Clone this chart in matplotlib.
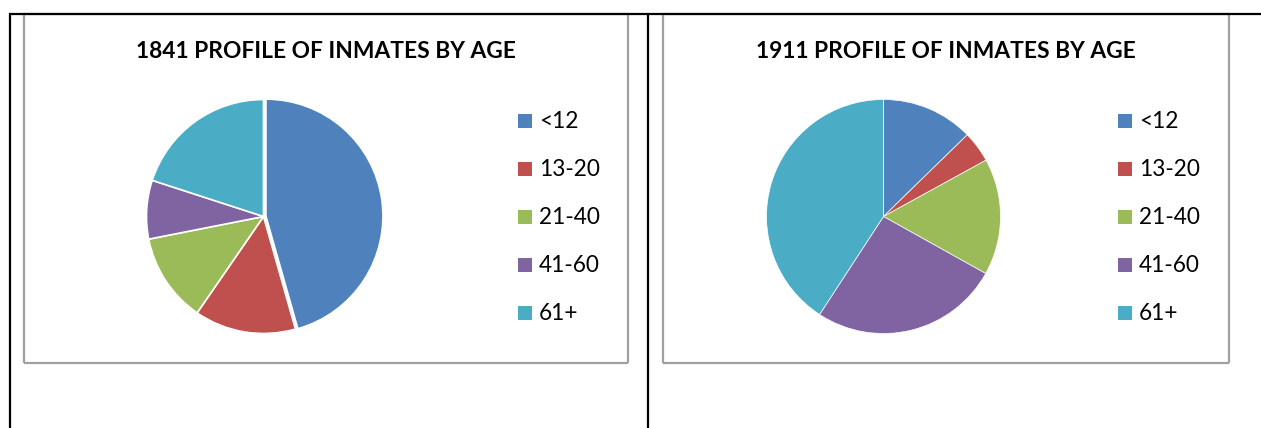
import matplotlib
matplotlib.use("Agg")
import matplotlib.pyplot as plt
from matplotlib.lines import Line2D

categories = ["<12", "13-20", "21-40", "41-60", "61+"]
values_1841 = [45.6, 14.0, 12.3, 8.1, 20.0]
values_1911 = [12.7, 4.3, 16.1, 26.1, 40.8]
titles = ["1841 PROFILE OF INMATES BY AGE", "1911 PROFILE OF INMATES BY AGE"]
colors = ["#4F81BD", "#C0504D", "#9BBB59", "#8064A2", "#4BACC6"]

W, H = 1261, 428
fig = plt.figure(figsize=(W / 100, H / 100), dpi=100)
plt.rcParams['font.family'] = ['Lato', 'DejaVu Sans']


def fx(x):
    return x / W


def fy(y):
    return 1 - y / H


def line(x0, y0, x1, y1, color, lw, z):
    fig.add_artist(Line2D([fx(x0), fx(x1)], [fy(y0), fy(y1)], color=color,
                          lw=lw, zorder=z, transform=fig.transFigure,
                          solid_capstyle='butt'))


def box(x0, y0, x1, y1):
    gray = "#A0A0A0"
    line(x0, y0, x1, y0, gray, 1.6, 2)
    line(x0, y1, x1, y1, gray, 1.6, 2)
    line(x0, y0, x0, y1, gray, 1.6, 2)
    line(x1, y0, x1, y1, gray, 1.6, 2)


box(24, 14, 628, 363)
box(663, 14, 1229, 363)
# table black lines
line(9, 13.5, 1261, 13.5, "black", 1.6, 5)
line(10, 13, 10, 428, "black", 1.6, 5)
line(648.5, 13, 648.5, 428, "black", 1.6, 5)

panels = [
    (values_1841, titles[0], 263.5, 216.5, 326, [0.02, 0, 0, 0, 0], 1.2, 518),
    (values_1911, titles[1], 883.5, 216.5, 946, [0, 0, 0, 0, 0], 0.5, 1118),
]
R = 117
for vals, title, cx, cy, tx, explode, elw, lx in panels:
    ax = fig.add_axes([fx(cx - R - 6), fy(cy + R + 6), (2 * R + 12) / W, (2 * R + 12) / H])
    ax.pie(vals, colors=colors, startangle=90, counterclock=False,
           explode=explode, radius=R / (R + 6),
           wedgeprops=dict(edgecolor="white", linewidth=elw))
    ax.set_xlim(-1, 1)
    ax.set_ylim(-1, 1)
    ax.set_aspect('equal')
    ax.axis('off')
    fig.text(fx(tx), fy(51), title, ha='center', va='center',
             fontsize=16.4, fontweight='bold', color='black')
    for i, cat in enumerate(categories):
        y = 121 + i * 48
        fig.patches.append(plt.Rectangle((fx(lx), fy(y + 7)), 14 / W, 14 / H,
                                         transform=fig.transFigure,
                                         facecolor=colors[i], edgecolor='none'))
        fig.text(fx(lx + 21), fy(y + 1), cat, ha='left', va='center',
                 fontsize=16.3, color='black')

fig.savefig("out.png", dpi=100, facecolor='white')
